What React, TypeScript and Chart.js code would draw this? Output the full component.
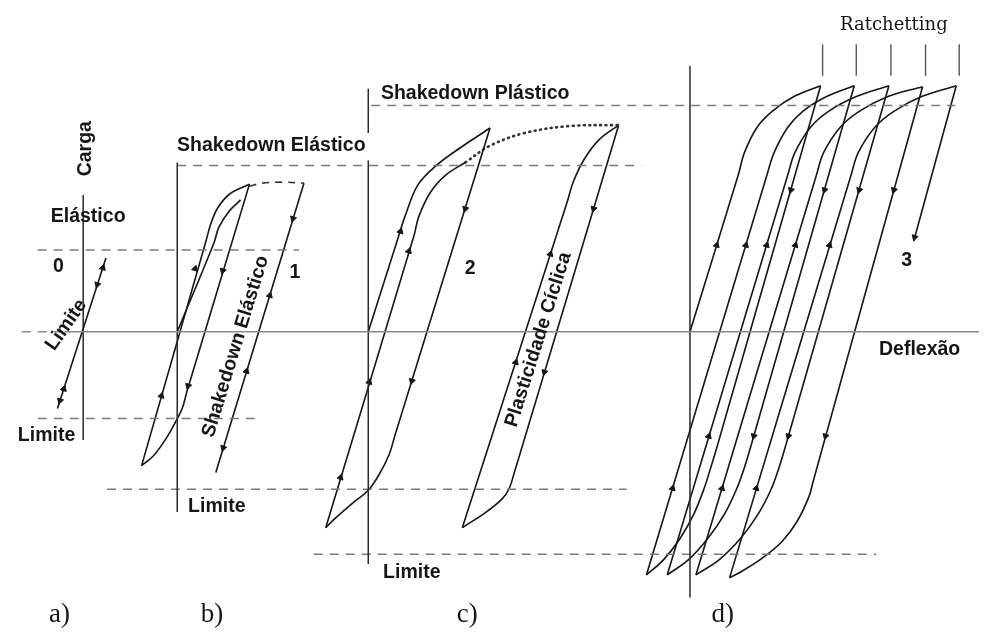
import { useEffect, useRef } from "react";
import { Chart, registerables } from "chart.js";

Chart.register(...registerables);

type Pt = [number, number];

// x = Deflexão, y = Carga (y = 0 lies on the deflection axis)

// axes
const deflexaoAxis: Pt[] = [[60, 0], [984, 0]];
const deflexaoAxisLead: Pt[] = [[17, 0], [60, 0]];
const cargaAxisA: Pt[] = [[79, 139], [79, -110]];
const cargaAxisB: Pt[] = [[174, 172], [174, -183]];
const cargaAxisCTop: Pt[] = [[367, 247], [367, 202]];
const cargaAxisC: Pt[] = [[367, 174], [367, -236]];
const cargaAxisD: Pt[] = [[692, 270], [692, -270]];

// load levels (dashed)
const levelElastic: Pt[] = [[33, 83], [297, 83]];
const levelElasticNeg: Pt[] = [[33, -88], [257, -88]];
const levelShakeElastic: Pt[] = [[174, 169], [643, 169]];
const levelShakeElasticNeg: Pt[] = [[103, -160], [628, -160]];
const levelShakePlastic: Pt[] = [[370, 230], [960, 230]];
const levelShakePlasticNeg: Pt[] = [[312, -226], [880, -226]];

// a) elastic
const pathA: Pt[] = [[53, -78], [102, 75]];

// b) elastic shakedown
const loadB: Pt[] = [[174, 0], [211, 90], [216, 106], [226, 122], [238, 134]];
const reloadB: Pt[] = [[138, -136], [203, 92], [208, 110], [215, 126], [227, 140], [247, 150]];
const unloadB: Pt[] = [[247, 150], [184, -60], [179, -78], [172, -92], [163, -108], [150, -126], [138, -136]];
const shiftB: Pt[] = [[247, 148], [260, 151], [280, 152], [302, 151]];
const cycleB: Pt[] = [[302, 151], [213, -143]];

// c) plastic shakedown
const loadC: Pt[] = [[367, 0], [397, 95], [404, 117], [417, 149], [437, 170], [460, 187], [490, 207]];
const unloadC: Pt[] = [[490, 207], [394, -105], [388, -125], [378, -145], [367, -161], [350, -175], [333, -190], [324, -199]];
const reloadC: Pt[] = [[324, -199], [413, 97], [418, 117], [430, 142], [445, 159], [465, 172]];
const shiftC: Pt[] = [[465, 172], [490, 189], [525, 202], [570, 209], [620, 210]];
const upC2: Pt[] = [[462, -199], [568, 132], [574, 152], [585, 175], [600, 195], [620, 210]];
const downC2: Pt[] = [[620, 210], [514, -145], [509, -160], [502, -170], [485, -184], [462, -199]];

// d) ratchetting
const loadD: Pt[] = [[692, 0], [741, 160], [747, 182], [760, 208], [775, 224], [797, 239], [824, 250]];
const upD2: Pt[] = [[648, -247], [770, 160], [777, 182], [791, 208], [806, 224], [830, 239], [858, 250]];
const upD3: Pt[] = [[669, -247], [791, 160], [798, 182], [814, 208], [832, 224], [860, 239], [893, 250]];
const upD4: Pt[] = [[698, -247], [820, 160], [827, 182], [844, 208], [863, 224], [892, 239], [927, 249]];
const upD5: Pt[] = [[732, -250], [855, 160], [862, 182], [879, 208], [898, 224], [926, 239], [961, 250]];
const downD1: Pt[] = [[824, 250], [719, -118], [713, -138], [706, -160], [696, -185], [682, -210], [665, -232], [648, -247]];
const downD2: Pt[] = [[858, 250], [753, -118], [747, -138], [739, -160], [727, -185], [710, -210], [690, -232], [669, -247]];
const downD3: Pt[] = [[893, 250], [788, -118], [782, -138], [774, -160], [761, -185], [743, -210], [721, -232], [698, -247]];
const downD4: Pt[] = [[927, 249], [817, -150], [812, -168], [800, -193], [785, -213], [765, -230], [745, -243], [732, -250]];
const downD5: Pt[] = [[961, 250], [918, 92]];
const ratchetTicks: number[] = [826, 860, 895, 930, 964];
const ratchetTickSpan: Pt = [260, 292];

// direction marks along the paths
const arrowsUp: Pt[] = [
  [98.8, 65], [59.4, -58],
  [158, -65], [192, 64], [267.5, 37], [244, -40],
  [399.5, 102], [408, 82], [368, -51], [339, -148], [551, 79], [516, -31],
  [719, 88], [748.5, 88], [769.5, 88], [798.5, 88], [833, 88],
  [711, -106], [674.4, -159], [724.4, -159], [759, -159],
];
const arrowsDown: Pt[] = [
  [93.3, 48], [55.6, -70],
  [220, 62], [185, -55], [291, 115], [220.5, -118],
  [465, 125], [411, -50], [594.6, 125], [545, -41],
  [794, 144], [828, 144], [863, 144], [898, 144],
  [756.5, -106], [791.5, -106], [829, -106],
  [919, 96],
];

// text annotations
const annotations = [
  { text: "Carga", x: 81, y: 186, angle: -90, font: "sans" },
  { text: "Elástico", x: 84, y: 117, angle: 0, font: "sans" },
  { text: "0", x: 54, y: 66, angle: 0, font: "sans" },
  { text: "Limite", x: 62, y: 7, angle: -55, font: "sans" },
  { text: "Limite", x: 42, y: -105, angle: 0, font: "sans" },
  { text: "Shakedown Elástico", x: 269, y: 189, angle: 0, font: "sans" },
  { text: "1", x: 293, y: 60, angle: 0, font: "sans" },
  { text: "Shakedown Elástico", x: 233, y: -15, angle: -73, font: "sans" },
  { text: "Limite", x: 214, y: -178, angle: 0, font: "sans" },
  { text: "Shakedown Plástico", x: 475, y: 242, angle: 0, font: "sans" },
  { text: "2", x: 470, y: 64, angle: 0, font: "sans" },
  { text: "Plasticidade Cíclica", x: 539, y: -8, angle: -72.5, font: "sans" },
  { text: "Limite", x: 411, y: -245, angle: 0, font: "sans" },
  { text: "Ratchetting", x: 898, y: 311, angle: 0, font: "serif" },
  { text: "3", x: 911, y: 72, angle: 0, font: "sans" },
  { text: "Deflexão", x: 924, y: -18, angle: 0, font: "sans" },
  { text: "a)", x: 55, y: -288, angle: 0, font: "caption" },
  { text: "b)", x: 209, y: -288, angle: 0, font: "caption" },
  { text: "c)", x: 467, y: -288, angle: 0, font: "caption" },
  { text: "d)", x: 725, y: -288, angle: 0, font: "caption" },
];

const INK = "#161616";
const GREY = "#7a7a7a";
const FONTS: Record<string, string> = {
  sans: "bold 19.5px 'Liberation Sans', Arial, sans-serif",
  serif: "18px 'DejaVu Serif', serif",
  caption: "27px 'Liberation Serif', 'Times New Roman', serif",
};

const toXY = (pts: Pt[]) => pts.map(([x, y]) => ({ x, y }));

const labelPlugin = {
  id: "diagramLabels",
  afterDatasetsDraw(chart: any) {
    const { ctx, scales } = chart;
    for (const a of annotations) {
      ctx.save();
      ctx.translate(scales.x.getPixelForValue(a.x), scales.y.getPixelForValue(a.y));
      ctx.rotate((a.angle * Math.PI) / 180);
      ctx.font = FONTS[a.font];
      ctx.fillStyle = INK;
      ctx.textAlign = "center";
      ctx.textBaseline = "middle";
      ctx.fillText(a.text, 0, 0);
      ctx.restore();
    }
  },
};

export default function App() {
  const ref = useRef<HTMLCanvasElement>(null);

  useEffect(() => {
    const canvas = ref.current;
    if (!canvas) return;

    const curve = (pts: Pt[], extra: any = {}) => ({
      data: toXY(pts),
      showLine: true,
      borderColor: INK,
      borderWidth: 1.6,
      pointRadius: 0,
      tension: 0.35,
      fill: false,
      ...extra,
    });
    const axis = (pts: Pt[]) => curve(pts, { borderColor: "#2a2a2a", borderWidth: 1.5, tension: 0 });
    const level = (pts: Pt[]) =>
      curve(pts, { borderColor: GREY, borderWidth: 1.5, borderDash: [9, 7], tension: 0 });

    const datasets: any[] = [
      curve(deflexaoAxis, { borderColor: "#8a8a8a", borderWidth: 1.4, tension: 0 }),
      curve(deflexaoAxisLead, { borderColor: "#8a8a8a", borderWidth: 1.4, borderDash: [9, 7], tension: 0 }),
      axis(cargaAxisA),
      axis(cargaAxisB),
      axis(cargaAxisCTop),
      axis(cargaAxisC),
      axis(cargaAxisD),
      level(levelElastic),
      level(levelElasticNeg),
      level(levelShakeElastic),
      level(levelShakeElasticNeg),
      level(levelShakePlastic),
      level(levelShakePlasticNeg),
      curve(pathA, { tension: 0 }),
      curve(loadB),
      curve(reloadB),
      curve(unloadB),
      curve(shiftB, { borderDash: [7, 6], borderColor: "#333" }),
      curve(cycleB, { tension: 0 }),
      curve(loadC),
      curve(unloadC),
      curve(reloadC),
      curve(shiftC, { borderDash: [1, 4.5], borderWidth: 2.6, borderCapStyle: "round", borderColor: "#333" }),
      curve(upC2),
      curve(downC2),
      curve(loadD),
      curve(upD2),
      curve(upD3),
      curve(upD4),
      curve(upD5),
      curve(downD1),
      curve(downD2),
      curve(downD3),
      curve(downD4),
      curve(downD5, { tension: 0 }),
      ...ratchetTicks.map((x) =>
        curve([[x, ratchetTickSpan[0]], [x, ratchetTickSpan[1]]], { borderColor: "#555", borderWidth: 1.4, tension: 0 })
      ),
      {
        data: toXY(arrowsUp),
        showLine: false,
        pointStyle: "triangle",
        pointRadius: 3.6,
        pointRotation: 17,
        backgroundColor: INK,
        borderColor: INK,
        borderWidth: 1,
      },
      {
        data: toXY(arrowsDown),
        showLine: false,
        pointStyle: "triangle",
        pointRadius: 3.6,
        pointRotation: 197,
        backgroundColor: INK,
        borderColor: INK,
        borderWidth: 1,
      },
    ];

    const chart = new Chart(canvas, {
      type: "scatter",
      data: { datasets },
      options: {
        animation: false,
        responsive: false,
        maintainAspectRatio: false,
        events: [],
        layout: { padding: 0 },
        scales: {
          x: { type: "linear", min: 0, max: 984, display: false },
          y: { type: "linear", min: -305, max: 332, display: false },
        },
        plugins: { legend: { display: false }, tooltip: { enabled: false } },
      },
      plugins: [labelPlugin],
    } as any);

    return () => chart.destroy();
  }, []);

  return (
    <div style={{ position: "fixed", left: 0, top: 0, width: 984, height: 637, background: "#fff" }}>
      <canvas ref={ref} width={984} height={637} style={{ display: "block" }} />
    </div>
  );
}
